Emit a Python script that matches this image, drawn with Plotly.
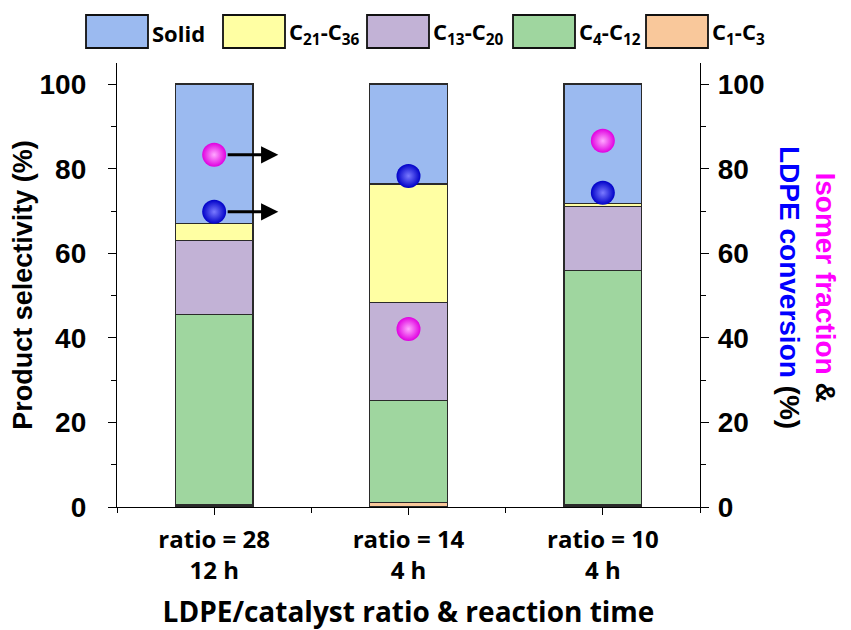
import plotly.graph_objects as go

# ---------------- data ----------------
categories = ["ratio = 28<br>12 h", "ratio = 14<br>4 h", "ratio = 10<br>4 h"]
series_names = ["C<sub>1</sub>-C<sub>3</sub>", "C<sub>4</sub>-C<sub>12</sub>",
                "C<sub>13</sub>-C<sub>20</sub>", "C<sub>21</sub>-C<sub>36</sub>", "Solid"]
c1_c3 = [0.5, 1.0, 0.5]
c4_c12 = [45.0, 24.2, 55.5]
c13_c20 = [17.5, 23.2, 15.1]
c21_c36 = [4.1, 28.0, 0.6]
solid = [32.9, 23.6, 28.3]
isomer_fraction = [83.3, 42.1, 86.6]
ldpe_conversion = [69.8, 78.3, 74.3]
y_ticks = [0, 20, 40, 60, 80, 100]

# ---------------- style ----------------
series_values = [c1_c3, c4_c12, c13_c20, c21_c36, solid]
series_colors = ["#f9c89b", "#9fd69f", "#c2b2d6", "#ffffa3", "#9bbaf0"]
ARIAL = "Liberation Sans, Arial, sans-serif"
CALIBRI = "Open Sans, Lato, sans-serif"
OFF = 8  # page body margin of the browser
W, H = 851 - OFF, 630 - OFF
ML, MT = 117 - OFF, 63 - OFF
MR, MB = W - (700 - OFF), H - (507 - OFF)
PW, PH = W - ML - MR, H - MT - MB
BAR_W = 0.4
ARROW_LEN = 0.33

xs = list(range(len(categories)))

fig = go.Figure()
for name, vals, col in zip(series_names, series_values, series_colors):
    fig.add_trace(go.Bar(x=xs, y=vals, name=name, width=BAR_W,
                         marker=dict(color=col, line=dict(color="#2a2a2a", width=1.3)),
                         showlegend=False, yaxis="y"))

fig.add_trace(go.Scatter(x=xs, y=isomer_fraction, mode="markers", yaxis="y2",
                         name="Isomer fraction", showlegend=False,
                         marker=dict(size=24, color="#e000e0",
                                     gradient=dict(type="radial", color="#ffa8ff"),
                                     line=dict(width=0))))
fig.add_trace(go.Scatter(x=xs, y=ldpe_conversion, mode="markers", yaxis="y2",
                         name="LDPE conversion", showlegend=False,
                         marker=dict(size=24, color="#0000c8",
                                     gradient=dict(type="radial", color="#7a7aff"),
                                     line=dict(width=0))))

axis_common = dict(showline=True, linecolor="black", linewidth=1.3, showgrid=False,
                   zeroline=False, ticks="outside", tickcolor="black", tickwidth=1.3,
                   automargin=False)

minor_x = [x - 0.5 for x in xs] + [xs[-1] + 0.5]

fig.update_layout(
    width=W, height=H, margin=dict(l=ML, r=MR, t=MT, b=MB),
    plot_bgcolor="white", paper_bgcolor="white", barmode="stack", showlegend=False,
    xaxis=dict(range=[xs[0] - 0.5, xs[-1] + 0.5], tickmode="array", tickvals=xs,
               ticktext=categories, ticklen=7, ticklabelstandoff=4,
               tickfont=dict(family=CALIBRI, size=24, color="black", weight="bold"),
               minor=dict(tickmode="array", tickvals=minor_x, ticks="outside", ticklen=5,
                          tickcolor="black", tickwidth=1.3),
               title=dict(text="LDPE/catalyst ratio & reaction time", standoff=18,
                          font=dict(family=CALIBRI, size=28, color="black", weight="bold")),
               **axis_common),
    yaxis=dict(range=[0, 105], tickmode="array", tickvals=y_ticks, ticklen=8,
               ticklabelstandoff=16,
               tickfont=dict(family=ARIAL, size=28, color="black", weight="bold"),
               minor=dict(dtick=10, tick0=0, ticks="outside", ticklen=5,
                          tickcolor="black", tickwidth=1.3),
               title=dict(text="Product selectivity (%)", standoff=0,
                          font=dict(family=ARIAL, size=27, color="black", weight="bold")),
               **axis_common),
    yaxis2=dict(range=[0, 105], overlaying="y", side="right", tickmode="array",
                tickvals=y_ticks, ticklen=8, ticklabelstandoff=3,
                tickfont=dict(family=ARIAL, size=28, color="black", weight="bold"),
                minor=dict(dtick=10, tick0=0, ticks="outside", ticklen=5,
                           tickcolor="black", tickwidth=1.3),
                **axis_common),
)

# arrows pointing from first-condition markers to the right axis
for val in [isomer_fraction[0], ldpe_conversion[0]]:
    fig.add_annotation(x=xs[0] + ARROW_LEN, y=val, xref="x", yref="y2",
                       ax=xs[0], ay=val, axref="x", ayref="y2", text="",
                       showarrow=True, arrowhead=2, arrowsize=1.15, arrowwidth=3,
                       arrowcolor="black", startstandoff=12)


def px_x(p):
    return (p - OFF - ML) / PW


def px_y(p):
    return (MT + PH - (p - OFF)) / PH


# right axis title (two colours, rotated clockwise)
fig.add_annotation(
    text=("<span style='color:#ff00ff'>Isomer fraction</span> &amp;<br>"
          "<span style='color:#0000ff'>LDPE conversion</span> (%)"),
    xref="paper", yref="paper", x=px_x(808), y=px_y(288),
    xanchor="center", yanchor="middle", textangle=90, showarrow=False,
    font=dict(family=ARIAL, size=28, color="black", weight="bold"))

# custom legend with large boxes
legend_box_x = [86, 223, 367, 513, 646]
legend_box_w, legend_box_top, legend_box_bot = 62, 15, 48
for bx, name, col in zip(legend_box_x, series_names[::-1], series_colors[::-1]):
    fig.add_shape(type="rect", xref="paper", yref="paper",
                  x0=px_x(bx), x1=px_x(bx + legend_box_w),
                  y0=px_y(legend_box_bot), y1=px_y(legend_box_top),
                  fillcolor=col, line=dict(color="#111111", width=1.8), layer="above")
    fig.add_annotation(text=name, xref="paper", yref="paper",
                       x=px_x(bx + legend_box_w + 2), y=px_y(33),
                       xanchor="left", yanchor="middle", showarrow=False,
                       font=dict(family=CALIBRI, size=22, color="black", weight="bold"))

fig.write_html("out.html")
